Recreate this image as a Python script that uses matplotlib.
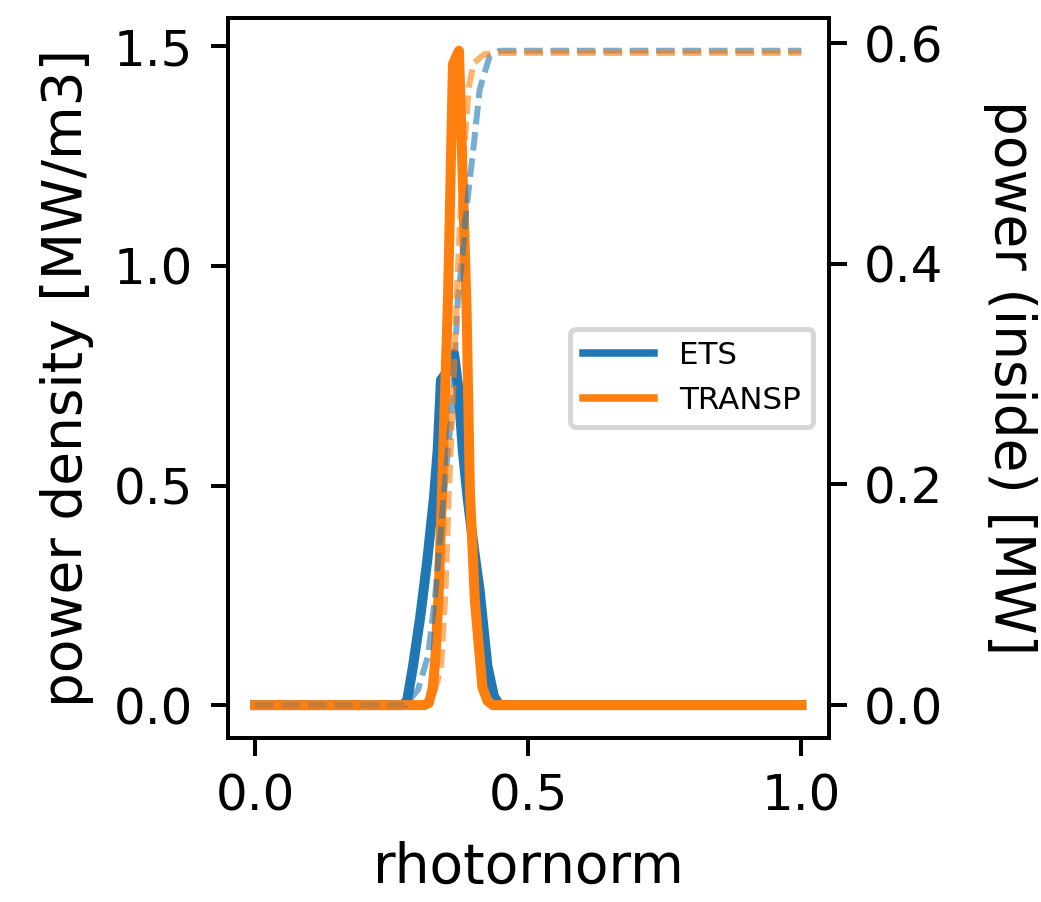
import matplotlib
matplotlib.use('Agg')
import matplotlib.pyplot as plt
from matplotlib.lines import Line2D

# ETS power density profile [MW/m3]
ets_rho = [0.0, 0.1, 0.2, 0.27, 0.278, 0.289, 0.302, 0.315, 0.327, 0.334, 0.340,
           0.352, 0.364, 0.372, 0.380, 0.389, 0.400, 0.411, 0.425, 0.437, 0.447,
           0.5, 0.6, 0.7, 0.8, 0.9, 1.0]
ets_dens = [0.0, 0.0, 0.0, 0.0, 0.01, 0.09, 0.20, 0.33, 0.47, 0.58, 0.74,
            0.76, 0.80, 0.72, 0.58, 0.47, 0.36, 0.26, 0.09, 0.02, 0.0,
            0.0, 0.0, 0.0, 0.0, 0.0, 0.0]

# ETS power inside [MW]
ets_cum_rho = [0.0, 0.1, 0.2, 0.275, 0.298, 0.316, 0.329, 0.347, 0.362, 0.371,
               0.380, 0.384, 0.391, 0.398, 0.411, 0.429, 0.447, 0.5, 0.6, 0.7,
               0.8, 0.9, 1.0]
ets_cum = [0.0, 0.0, 0.0, 0.0, 0.014, 0.044, 0.096, 0.20, 0.277, 0.368,
           0.41, 0.438, 0.468, 0.498, 0.558, 0.588, 0.593, 0.593, 0.593, 0.593,
           0.593, 0.593, 0.593]

# TRANSP power density profile [MW/m3]
tr_rho = [0.0, 0.1, 0.2, 0.3, 0.31, 0.318, 0.325, 0.330, 0.336, 0.342, 0.353,
          0.362, 0.373, 0.387, 0.393, 0.402, 0.416, 0.425, 0.435, 0.5, 0.6,
          0.7, 0.8, 0.9, 1.0]
tr_dens = [0.0, 0.0, 0.0, 0.0, 0.0, 0.005, 0.04, 0.11, 0.26, 0.49, 0.93,
           1.46, 1.49, 0.90, 0.49, 0.24, 0.04, 0.01, 0.0, 0.0, 0.0,
           0.0, 0.0, 0.0, 0.0]

# TRANSP power inside [MW]
tr_cum_rho = [0.0, 0.1, 0.2, 0.302, 0.324, 0.340, 0.348, 0.355, 0.362, 0.369,
              0.376, 0.385, 0.391, 0.400, 0.42, 0.44, 0.5, 0.6, 0.7, 0.8,
              0.9, 1.0]
tr_cum = [0.0, 0.0, 0.0, 0.0, 0.005, 0.033, 0.10, 0.20, 0.277, 0.37,
          0.45, 0.52, 0.56, 0.582, 0.590, 0.591, 0.591, 0.591, 0.591, 0.591,
          0.591, 0.591]

labels = ['ETS', 'TRANSP']

fig = plt.figure(figsize=(1041 / 360, 902 / 360), dpi=360)
ax = fig.add_axes([0.219, 0.182, 0.577, 0.798])
ax2 = ax.twinx()

ax.plot(ets_rho, ets_dens, color='C0', lw=2)
ax.plot(tr_rho, tr_dens, color='C1', lw=2)
ax2.plot(ets_cum_rho, ets_cum, color='C0', lw=1.2, ls='--', dashes=(3.1, 1.3), alpha=0.6)
ax2.plot(tr_cum_rho, tr_cum, color='C1', lw=1.2, ls='--', dashes=(3.1, 1.3), alpha=0.6)

ax.set_xlabel('rhotornorm', fontsize=11)
ax.set_ylabel('power density [MW/m3]', fontsize=11)
ax2.set_ylabel('power (inside) [MW]', fontsize=11, rotation=270, va='bottom', labelpad=8)

ax.set_xticks([0.0, 0.5, 1.0])
ax.set_yticks([0.0, 0.5, 1.0, 1.5])
ax2.set_yticks([0.0, 0.2, 0.4, 0.6])

handles = [Line2D([], [], color='C0', lw=1.5), Line2D([], [], color='C1', lw=1.5)]
ax.legend(handles, labels, loc='center right', fontsize=6.2, handlelength=2.3)

fig.savefig('out.png', dpi=360)
